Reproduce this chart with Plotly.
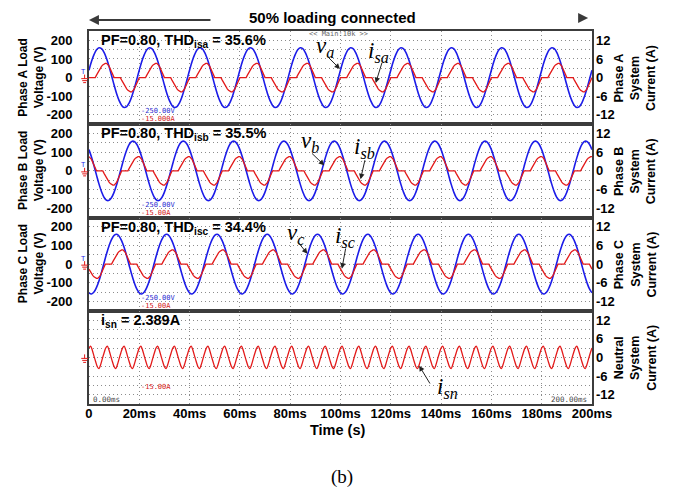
import numpy as np
import plotly.graph_objects as go

W, H = 695, 488

# ---- waveform data (one fundamental cycle per phase, 50 Hz) ----
# phase voltages, sampled every 1 ms over 20 ms (V)
va_cycle = [40, 86, 123, 149, 160, 155, 135, 102, 59, 10,
            -40, -86, -123, -149, -160, -155, -135, -102, -59, -10]
vb_cycle = [114, 74, 27, -23, -71, -112, -142, -158, -158, -143,
            -114, -74, -27, 23, 71, 112, 142, 158, 158, 143]
vc_cycle = [-154, -160, -150, -125, -89, -43, 7, 56, 99, 133,
            154, 160, 150, 125, 89, 43, -7, -56, -99, -133]

# phase system currents, sampled every 0.5 ms over 20 ms (A)
ia_cycle = [0, 0, 0, 0, 0, 0, 0.8, 1.6, 2.4, 3.1, 3.6, 4.1, 4.4, 4.6, 4.6, 4.3, 3.7, 2.8, 1.7, 0.5,
            0, 0, 0, 0, 0, 0, -0.8, -1.6, -2.4, -3.1, -3.6, -4.1, -4.4, -4.6, -4.6, -4.3, -3.7, -2.8, -1.7, -0.5]
ib_cycle = [4.6, 4.3, 3.7, 2.8, 1.7, 0.5, 0, 0, 0, 0, 0, 0, -0.8, -1.6, -2.4, -3.1, -3.6, -4.1, -4.4, -4.6,
            -4.6, -4.3, -3.7, -2.8, -1.7, -0.5, 0, 0, 0, 0, 0, 0, 0.8, 1.6, 2.4, 3.1, 3.6, 4.1, 4.4, 4.6]
ic_cycle = [-1.6, -2.4, -3.1, -3.6, -4.1, -4.4, -4.6, -4.6, -4.3, -3.7, -2.8, -1.7, -0.5, 0, 0, 0, 0, 0, 0, 0.8,
            1.6, 2.4, 3.1, 3.6, 4.1, 4.4, 4.6, 4.6, 4.3, 3.7, 2.8, 1.7, 0.5, 0, 0, 0, 0, 0, 0, -0.8]

# neutral current, one 150 Hz cycle sampled every 2/3 ms (A)
isn_cycle = [3.0, 3.6, 2.3, 0.4, -1.4, -3.0, -3.6, -2.3, -0.4, 1.4]

# ---- annotation text ----
panel_notes = ["PF=0.80, THD<sub>isa</sub> = 35.6%",
               "PF=0.80, THD<sub>isb</sub> = 35.5%",
               "PF=0.80, THD<sub>isc</sub> = 34.4%",
               "i<sub>sn</sub> = 2.389A"]
left_titles = ["Phase A Load<br>Voltage (V)", "Phase B Load<br>Voltage (V)", "Phase C Load<br>Voltage (V)", None]
right_titles = ["Phase A<br>System<br>Current (A)", "Phase B<br>System<br>Current (A)",
                "Phase C<br>System<br>Current (A)", "Neutral<br>System<br>Current (A)"]
volt_ticks = [-200, -100, 0, 100, 200]
curr_ticks = [-12, -6, 0, 6, 12]
time_ticks = list(range(0, 201, 20))
time_labels = ["0"] + [f"{v}ms" for v in time_ticks[1:]]

CYCLES = 10
t_v = np.arange(20 * CYCLES + 1) * 1.0
t_i = np.arange(40 * CYCLES + 1) * 0.5
t_n = np.arange(10 * 3 * CYCLES + 1) * (20.0 / 30.0)


def tile(cycle, n):
    return np.append(np.tile(cycle, n), cycle[0])


def px(x):
    return x / W


def py(y):
    return 1 - y / H


BLUE = "#1c1ce8"
RED = "#e31a1a"
GRID = "#8c8c8c"
FRAME = "#3c3c3c"
SANS = "Liberation Sans, Arial, sans-serif"
SERIF = "Liberation Serif, Times New Roman, serif"
MONO = "DejaVu Sans Mono, monospace"

X0, X1 = 88, 609
TOP, BOT = 31, 404
ph = (BOT - TOP) / 4
panel_tops = [TOP + k * ph for k in range(4)]

fig = go.Figure()

volts = [va_cycle, vb_cycle, vc_cycle]
currs = [ia_cycle, ib_cycle, ic_cycle]

layout = dict(width=W, height=H, autosize=False, margin=dict(l=0, r=0, t=0, b=0),
              paper_bgcolor="white", plot_bgcolor="white", showlegend=False)

for k in range(4):
    xa = "xaxis" if k == 0 else f"xaxis{k + 1}"
    xr = "x" if k == 0 else f"x{k + 1}"
    ly = 2 * k + 1
    ry = 2 * k + 2
    lya = "yaxis" if ly == 1 else f"yaxis{ly}"
    lyr = "y" if ly == 1 else f"y{ly}"
    rya = f"yaxis{ry}"
    ryr = f"y{ry}"
    top = panel_tops[k]
    dom = [py(top + ph), py(top)]

    layout[xa] = dict(domain=[px(X0), px(X1)], range=[0, 200], anchor=lyr,
                      tickvals=time_ticks, ticktext=time_labels,
                      showticklabels=(k == 3), ticks="",
                      tickfont=dict(family=SANS, size=13, color="black", weight="bold"),
                      ticklabelstandoff=-3,
                      showgrid=True, gridcolor=GRID, griddash="1px,3px", gridwidth=1,
                      showline=True, mirror=True, linecolor=FRAME, linewidth=1.6,
                      zeroline=False, fixedrange=True)
    layout[lya] = dict(domain=dom, range=[-250, 250], anchor=xr,
                       tickvals=volt_ticks, ticktext=[str(v) for v in volt_ticks],
                       showticklabels=(k < 3), ticks="", ticklabelstandoff=12,
                       tickfont=dict(family=SANS, size=13, color="black", weight="bold"),
                       showgrid=True, gridcolor=GRID, griddash="1px,3px", gridwidth=1,
                       minor=dict(dtick=50, showgrid=True, gridcolor=GRID,
                                  griddash="1px,3px", gridwidth=1),
                       showline=True, mirror=True, linecolor=FRAME, linewidth=1.6,
                       zeroline=False, fixedrange=True)
    layout[rya] = dict(domain=dom, range=[-15, 15], anchor=xr, overlaying=lyr, side="right",
                       tickvals=curr_ticks, ticktext=[str(v) for v in curr_ticks],
                       ticks="", ticklabelstandoff=3,
                       tickfont=dict(family=SANS, size=13, color="black", weight="bold"),
                       showgrid=False, showline=False, zeroline=False, fixedrange=True)

    if k < 3:
        fig.add_trace(go.Scatter(x=t_v, y=tile(volts[k], CYCLES), xaxis=xr, yaxis=lyr,
                                 mode="lines", line=dict(color=BLUE, width=1.6, shape="spline"),
                                 hoverinfo="skip"))
        fig.add_trace(go.Scatter(x=t_i, y=tile(currs[k], CYCLES), xaxis=xr, yaxis=ryr,
                                 mode="lines", line=dict(color=RED, width=1.3),
                                 hoverinfo="skip"))
    else:
        # empty trace so the framed grid of the neutral panel is built
        fig.add_trace(go.Scatter(x=[None], y=[None], xaxis=xr, yaxis=lyr,
                                 mode="lines", hoverinfo="skip"))
        fig.add_trace(go.Scatter(x=t_n, y=tile(isn_cycle, 3 * CYCLES), xaxis=xr, yaxis=ryr,
                                 mode="lines", line=dict(color=RED, width=1.3, shape="spline",
                                                         smoothing=0.8),
                                 hoverinfo="skip"))

fig.update_layout(**layout)

ann = []
shapes = []


def text(x, y, s, size, family=SANS, color="black", weight="bold", xanchor="left",
         yanchor="middle", angle=0, style="normal"):
    ann.append(dict(x=px(x), y=py(y), xref="paper", yref="paper", text=s, showarrow=False,
                    xanchor=xanchor, yanchor=yanchor, textangle=angle,
                    font=dict(family=family, size=size, color=color, weight=weight, style=style)))


def arrow(x_tail, y_tail, x_tip, y_tip, width=1.0, color="#222", head=2, size=1.0):
    ann.append(dict(x=px(x_tip), y=py(y_tip), xref="paper", yref="paper", text="",
                    showarrow=True, ax=x_tail - x_tip, ay=y_tail - y_tip,
                    axref="pixel", ayref="pixel", arrowhead=head, arrowsize=size,
                    arrowwidth=width, arrowcolor=color, standoff=0, startstandoff=0))


# header
text(340.5, 17, "50% loading connected", 15, xanchor="center")
arrow(211, 20, 88, 20, width=2, color="#3a3a3a", head=2, size=1.0)
arrow(597, 18, 605, 18, width=2, color="#3a3a3a", head=2, size=1.0)

# panel notes and axis titles
for k in range(4):
    top = panel_tops[k]
    mid = top + ph / 2
    text(98, top + 10, panel_notes[k], 14.5)
    if left_titles[k]:
        text(28, mid, left_titles[k], 12, xanchor="center", angle=-90)
    text(654, mid, right_titles[k], 12.5, xanchor="center", angle=-90)

    # scope scale readouts
    if k < 3:
        text(140, top + ph - 13, "-250.00V", 7, family=MONO, color="#2a2ad0", weight="normal")
        text(140, top + ph - 5, "-15.000A" if k == 0 else "-15.00A", 7, family=MONO,
             color="#d42020", weight="normal")
    else:
        text(140, top + ph - 17.5, "-15.00A", 7, family=MONO, color="#d42020", weight="normal")

    # ground reference marker at the left edge
    z = mid
    for dx, dy in [(3.5, 1), (2.5, 3), (1.5, 5)]:
        shapes.append(dict(type="line", xref="paper", yref="paper",
                           x0=px(83.5 - dx), x1=px(83.5 + dx), y0=py(z + dy), y1=py(z + dy),
                           line=dict(color=RED, width=1)))
    shapes.append(dict(type="line", xref="paper", yref="paper", x0=px(83.5), x1=px(83.5),
                       y0=py(z - 3), y1=py(z + 1), line=dict(color=RED, width=1)))
    if k < 3:
        text(82, z - 6, "T", 7, color=BLUE, weight="normal", xanchor="center")

# time stamps in the last panel
text(90, 399, "0.00ms", 7.5, family=MONO, color="#444", weight="normal")
text(606, 399, "200.00ms", 7.5, family=MONO, color="#444", weight="normal", xanchor="right")
text(314, 33.5, "&lt;&lt; Main:10k &gt;&gt;", 7, family=MONO, color="#666", weight="normal")

# waveform labels
labels = [("v<sub>a</sub>", 321, 47, 335, 56, 348, 69),
          ("i<sub>sa</sub>", 375, 52, 391.7, 61.3, 385, 83),
          ("v<sub>b</sub>", 306, 142, 318, 152, 331.7, 165.3),
          ("i<sub>sb</sub>", 360, 148, 374, 158.7, 369.3, 179.3),
          ("v<sub>c</sub>", 291, 234, 303.3, 240.3, 314.3, 253.7),
          ("i<sub>sc</sub>", 341, 237, 354, 247, 350, 268.7),
          ("i<sub>sn</sub>", 446, 388, 441.7, 385, 430, 365.7)]
for s, lx, ly_, tx, ty, hx, hy in labels:
    text(lx, ly_, s, 23, family=SERIF, weight="normal", style="italic")
    arrow(tx, ty, hx, hy, width=1, color="#222", head=2, size=1.1)

# axis title and caption
text(345.5, 430, "Time (s)", 14.5, xanchor="center")
text(350, 477, "(b)", 19, family=SERIF, weight="normal", xanchor="center")

fig.update_layout(annotations=ann, shapes=shapes)
fig.write_html("out.html")
